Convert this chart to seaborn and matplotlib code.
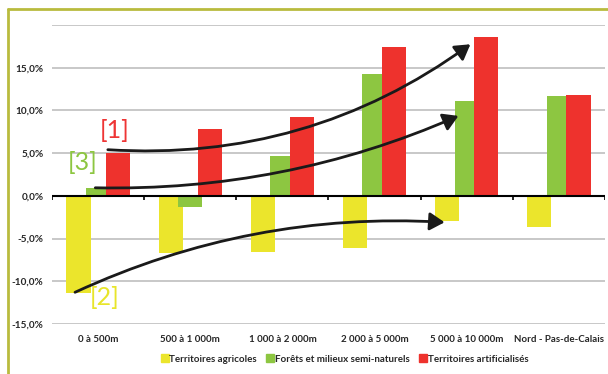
import matplotlib
matplotlib.use("Agg")
import matplotlib.pyplot as plt
import seaborn as sns
import pandas as pd
from matplotlib.lines import Line2D

categories = ["0 à 500m", "500 à 1 000m", "1 000 à 2 000m", "2 000 à 5 000m",
              "5 000 à 10 000m", "Nord - Pas-de-Calais"]
series = ["Territoires agricoles", "Forêts et milieux semi-naturels", "Territoires artificialisés"]
agricoles = [-11.4, -6.7, -6.6, -6.1, -3.0, -3.7]
forets = [0.9, -1.3, 4.7, 14.3, 11.1, 11.7]
artificialises = [5.0, 7.8, 9.2, 17.4, 18.6, 11.8]
colors = ["#EBE52C", "#8DC641", "#EE322D"]
yticks = [-15, -10, -5, 0, 5, 10, 15]
ytick_labels = ["-15,0%", "-10,0%", "-5,0%", "0,0%", "5,0%", "10,0%", "15,0%"]

df = pd.DataFrame({
    "cat": categories * 3,
    "series": [series[0]] * 6 + [series[1]] * 6 + [series[2]] * 6,
    "val": agricoles + forets + artificialises,
})

sns.set_style("white")
plt.rcParams["font.family"] = ["Lato", "DejaVu Sans"]

fig = plt.figure(figsize=(6.08, 3.74), dpi=100)
ax = fig.add_axes([0.0855, 0.134, 0.9095, 0.799])

sns.barplot(data=df, x="cat", y="val", hue="series", palette=colors,
            hue_order=series, order=categories, width=0.64, dodge=True,
            ax=ax, linewidth=0, saturation=1, errorbar=None)

bw = 0.262
off = 0.213
for i, cont in enumerate(ax.containers):
    for bar in cont:
        c = round(bar.get_x() + bar.get_width() / 2)
        bar.set_width(bw)
        bar.set_x(c + (i - 1) * off - bw / 2)
        bar.set_zorder(2 + i)

if ax.get_legend():
    ax.get_legend().remove()

ax.set_xlim(-0.5, 5.5)
ax.set_ylim(-15, 20)
ax.set_yticks(yticks + [20])
ax.set_yticklabels(ytick_labels + [""])
for s in ["left", "right", "top", "bottom"]:
    ax.spines[s].set_visible(False)
ax.grid(axis="y", color="#BFBFBF", lw=1.2, zorder=0)
ax.set_axisbelow(True)
ax.tick_params(axis="y", length=0, pad=6, labelsize=7.2)
ax.tick_params(axis="x", length=0, pad=8, labelsize=7.0)
for t in ax.get_xticklabels() + ax.get_yticklabels():
    t.set_fontweight("bold")
ax.set_xlabel("")
ax.set_ylabel("")

# zero axis line and category separator ticks
ax.axhline(0, color="black", lw=1.5, zorder=6)
ax.vlines([k - 0.5 for k in range(7)], -0.45, 0, color="black", lw=1.2, zorder=6)

# annotations
ax.text(0.185, 7.6, "[1]", color="#EE3535", fontsize=18, ha="center", va="center", zorder=8)
ax.text(-0.163, 3.86, "[3]", color="#8DC641", fontsize=18, ha="center", va="center", zorder=8)
ax.text(0.076, -11.9, "[2]", color="#E8E52A", fontsize=18, ha="center", va="center", zorder=8)

akw = dict(arrowstyle="-|>,head_length=0.5,head_width=0.3", color="#1a1a1a", lw=2.0,
           mutation_scale=18, shrinkA=0, shrinkB=0)
ax.annotate("", xy=(4.04, 17.75), xytext=(0.106, 5.4),
            arrowprops=dict(connectionstyle="arc3,rad=0.18", **akw), zorder=9)
ax.annotate("", xy=(3.91, 9.36), xytext=(-0.03, 0.94),
            arrowprops=dict(connectionstyle="arc3,rad=0.11", **akw), zorder=9)
ax.annotate("", xy=(3.76, -3.1), xytext=(-0.25, -11.3),
            arrowprops=dict(connectionstyle="arc3,rad=-0.125", **akw), zorder=9)

# legend
leg_handles = [Line2D([0], [0], marker="s", color="w", markerfacecolor=c,
                      markeredgecolor=c, markersize=6, lw=0) for c in colors]
leg = fig.legend(leg_handles, series, loc="center", bbox_to_anchor=(0.567, 0.04),
                 ncol=3, frameon=False, fontsize=7.0, handlelength=0.7,
                 handletextpad=0.15, columnspacing=1.0)
for t in leg.get_texts():
    t.set_fontweight("bold")

# outer frame (olive, left and top visible)
fc = "#B9BB3E"
fig.add_artist(Line2D([8 / 608, 8 / 608], [0, 1 - 9 / 374], color=fc, lw=2.0,
                      transform=fig.transFigure))
fig.add_artist(Line2D([8 / 608, 1], [1 - 9 / 374, 1 - 9 / 374], color=fc, lw=2.0,
                      transform=fig.transFigure))

fig.savefig("out.png", dpi=100)
